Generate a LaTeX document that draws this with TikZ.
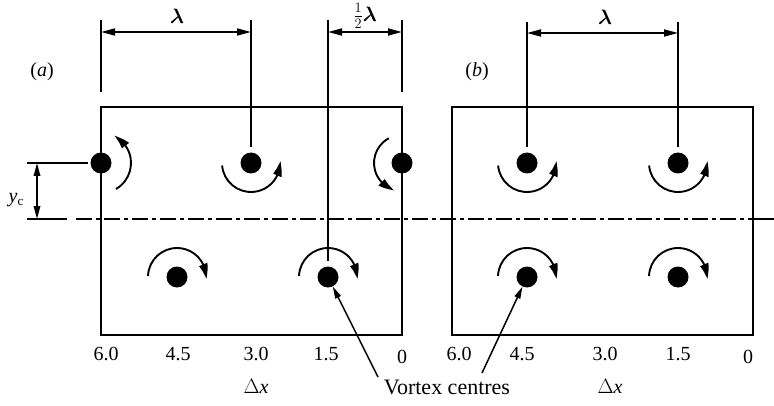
\documentclass[tikz,border=0pt]{standalone}
\usepackage{amsmath}
\usepackage{fontspec}
\setmainfont{Liberation Serif}
\usetikzlibrary{arrows.meta,bending}
\tikzset{
  dot/.style={circle,fill=black,inner sep=0pt,minimum size=21pt},
  boxline/.style={line width=2.4pt},
  thin line/.style={line width=1.7pt},
  dim/.style={line width=1.7pt,{Triangle[length=14pt,width=7pt]}-{Triangle[length=14pt,width=7pt]}},
  spin/.style={line width=1.9pt,-{Triangle[length=15pt,width=8.5pt,bend]}},
  ptr/.style={line width=1.5pt,-{Triangle[length=12pt,width=6pt]}},
  lbl/.style={inner sep=0pt,font=\fontsize{20}{24}\selectfont},
  biglbl/.style={inner sep=0pt,font=\fontsize{22}{26}\selectfont},
  dashdot/.style={line width=1.7pt,dash pattern=on 16pt off 4pt on 4pt off 4pt}
}
\begin{document}
\begin{tikzpicture}[x=1pt,y=1pt]
\useasboundingbox (0,0) rectangle (774,405);
% boxes
\draw[boxline] (101,70) rectangle (402,298);
\draw[boxline] (452,70) rectangle (753,298);
% vortex dots
\node[dot] (a1) at (101,242) {};
\node[dot] (a2) at (251,242) {};
\node[dot] (a3) at (402,242) {};
\node[dot] (a4) at (177,128) {};
\node[dot] (a5) at (328,128) {};
\node[dot] (b1) at (527,242) {};
\node[dot] (b2) at (678,242) {};
\node[dot] (b3) at (527,128) {};
\node[dot] (b4) at (678,128) {};
% rotation arcs
\draw[spin] ([shift={(-60:30pt)}]a1.center) arc[start angle=-60,end angle=64,radius=30pt];
\draw[spin] ([shift={(118:28pt)}]a3.center) arc[start angle=118,end angle=254,radius=28pt];
\draw[spin] ([shift={(185:29pt)}]a2.center) arc[start angle=185,end angle=364,radius=29pt];
\draw[spin] ([shift={(185:29pt)}]b1.center) arc[start angle=185,end angle=364,radius=29pt];
\draw[spin] ([shift={(185:29pt)}]b2.center) arc[start angle=185,end angle=364,radius=29pt];
\draw[spin] ([shift={(178:29pt)}]a4.center) arc[start angle=178,end angle=-4,radius=29pt];
\draw[spin] ([shift={(178:29pt)}]a5.center) arc[start angle=178,end angle=-4,radius=29pt];
\draw[spin] ([shift={(178:29pt)}]b3.center) arc[start angle=178,end angle=-4,radius=29pt];
\draw[spin] ([shift={(178:29pt)}]b4.center) arc[start angle=178,end angle=-4,radius=29pt];
% extension lines
\coordinate (ea0) at (101,385); \coordinate (ea0b) at (101,313);
\coordinate (ea1) at (251,385);
\coordinate (ea2) at (328,385);
\coordinate (ea3) at (402,385); \coordinate (ea3b) at (402,313);
\coordinate (eb1) at (527,383);
\coordinate (eb2) at (678,383);
\draw[thin line] (ea0) -- (ea0b);
\draw[thin line] (ea1) -- ([yshift=5pt]a2.north);
\draw[thin line] (ea2) -- ([yshift=5pt]a5.north);
\draw[thin line] (ea3) -- (ea3b);
\draw[thin line] (eb1) -- ([yshift=5pt]b1.north);
\draw[thin line] (eb2) -- ([yshift=5pt]b2.north);
% dimension arrows
\coordinate (da0) at (101,373); \coordinate (da1) at (251,373);
\coordinate (da2) at (328,373); \coordinate (da3) at (402,373);
\coordinate (db1) at (527,372); \coordinate (db2) at (678,372);
\draw[dim] (da0) -- (da1);
\draw[dim] (da2) -- (da3);
\draw[dim] (db1) -- (db2);
\node[lbl] (lam1) at (177,389) {$\boldsymbol{\lambda}$};
\node[lbl] (lam2) at (365,389) {$\tfrac{1}{2}\boldsymbol{\lambda}$};
\node[lbl] (lam3) at (605,388) {$\boldsymbol{\lambda}$};
% panel labels
\node[lbl] (pa) at (42,333) {(\textit{a})};
\node[lbl] (pb) at (477,333) {(\textit{b})};
% y_c dimension
\coordinate (yc1) at (27,242); \coordinate (yc2) at (88,242);
\coordinate (yc3) at (37,242); \coordinate (yc4) at (37,186);
\coordinate (yc5) at (27,186); \coordinate (yc6) at (67,186);
\draw[thin line] (yc1) -- (yc2);
\draw[thin line] (yc5) -- (yc6);
\draw[line width=1.7pt,{Triangle[length=13pt,width=6.5pt]}-{Triangle[length=13pt,width=6.5pt]}] (yc3) -- (yc4);
\node[lbl] (yclab) at (16,205) {\textit{y}\raisebox{-3pt}{\fontsize{13}{14}\selectfont c}};
% dash-dot line
\coordinate (dd1) at (76,186); \coordinate (dd2) at (753,186); \coordinate (dd3) at (774,186);
\draw[dashdot] (dd1) -- (dd2);
\draw[thin line] (dd2) -- (dd3);
% axis numbers
\node[lbl] (n1) at (106,51) {6.0};
\node[lbl] (n2) at (178,51) {4.5};
\node[lbl] (n3) at (256,51) {3.0};
\node[lbl] (n4) at (326,51) {1.5};
\node[lbl] (n5) at (402,48) {0};
\node[lbl] (m1) at (459,51) {6.0};
\node[lbl] (m2) at (522,51) {4.5};
\node[lbl] (m3) at (605,51) {3.0};
\node[lbl] (m4) at (678,51) {1.5};
\node[lbl] (m5) at (748,48) {0};
\node[lbl] (dx1) at (256,19) {$\Delta$\textit{x}};
\node[lbl] (dx2) at (610,19) {$\Delta$\textit{x}};
% vortex centres
\node[biglbl] (vc) at (447,18) {Vortex centres};
\coordinate (v1) at (378,28);
\coordinate (v2) at (482,32);
\draw[ptr] (v1) -- (a5);
\draw[ptr] (v2) -- (b3);
\end{tikzpicture}
\end{document}
